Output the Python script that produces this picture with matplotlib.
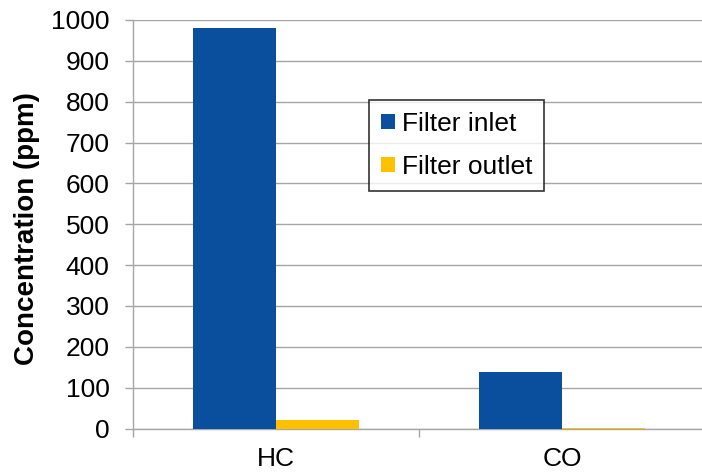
import matplotlib.pyplot as plt
import numpy as np

plt.rcParams['font.family'] = ['Liberation Sans', 'DejaVu Sans']

categories = ['HC', 'CO']
inlet = [980, 138]
outlet = [20, 2]
series_names = ['Filter inlet', 'Filter outlet']
colors = ['#0A4F9E', '#FFC000']

fig = plt.figure(figsize=(7.02, 4.74), dpi=100)
ax = fig.add_axes([133 / 702, 1 - 428.5 / 474, 572 / 702, 408.5 / 474])

x = np.arange(len(categories))
w = 0.2885
ax.bar(x - w / 2, inlet, w, color=colors[0], label=series_names[0], zorder=3)
ax.bar(x + w / 2, outlet, w, color=colors[1], label=series_names[1], zorder=3)

ax.set_xlim(-0.5, 1.5)
ax.set_ylim(0, 1000)
ax.set_yticks(range(0, 1001, 100))
ax.yaxis.grid(True, color='#A6A6A6', linewidth=1.0, zorder=0)
ax.set_axisbelow(True)

ax.set_xticks(x)
ax.set_xticklabels(categories)
ax.set_xticks([-0.5, 0.5, 1.5], minor=True)
ax.tick_params(axis='x', which='major', length=0, labelsize=19, pad=13)
ax.tick_params(axis='x', which='minor', length=6, color='#A6A6A6', width=1)
ax.tick_params(axis='y', length=6, color='#A6A6A6', width=1, labelsize=19, pad=11)

for s in ['top', 'right']:
    ax.spines[s].set_visible(False)
for s in ['left', 'bottom']:
    ax.spines[s].set_color('#A6A6A6')
    ax.spines[s].set_linewidth(1)

ax.set_ylabel('Concentration (ppm)', fontsize=20, fontweight='bold')
ax.yaxis.set_label_coords(-0.163, 0.49)

leg = ax.legend(loc='upper left', bbox_to_anchor=((369 - 133) / 572, (428.5 - 100) / 408.5),
                fontsize=19, frameon=True, fancybox=False, edgecolor='black',
                handlelength=0.55, handleheight=0.55, handletextpad=0.25,
                labelspacing=0.72, borderpad=0.45, borderaxespad=0)
leg.get_frame().set_linewidth(1.2)

fig.savefig('out.png', dpi=100)
